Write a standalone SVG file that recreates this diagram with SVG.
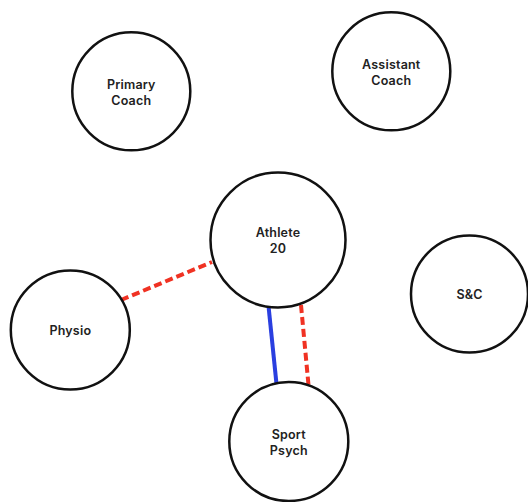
<svg xmlns="http://www.w3.org/2000/svg" width="528" height="502" viewBox="0 0 528 502">
  <style>
    .node circle { fill: #ffffff; stroke: #111111; stroke-width: 2.5; }
    .node text { font-family: "Inter", "Open Sans", "DejaVu Sans", sans-serif; font-size: 12.5px; font-weight: 600; fill: #222222; text-anchor: middle; dominant-baseline: middle; letter-spacing: 0.2px; }
    .link { fill: none; stroke-width: 4; }
    .support { stroke: #2a3fe0; }
    .tension { stroke: #f03223; stroke-dasharray: 8 4; }
  </style>
  <rect width="528" height="502" fill="#ffffff"/>

  <g id="connectors">
    <line class="link tension" x1="121" y1="300" x2="212" y2="262"/>
    <line class="link support" x1="268.5" y1="306" x2="276.5" y2="384"/>
    <line class="link tension" x1="301" y1="305" x2="308.5" y2="385"/>
  </g>

  <g id="primary-coach" class="node">
    <circle cx="131.3" cy="91.3" r="59"/>
    <text x="131.3" y="85.5">Primary</text>
    <text x="131.3" y="101.5">Coach</text>
  </g>

  <g id="assistant-coach" class="node">
    <circle cx="391.3" cy="71.3" r="59"/>
    <text x="391.3" y="65.5">Assistant</text>
    <text x="391.3" y="81.5">Coach</text>
  </g>

  <g id="athlete-20" class="node">
    <circle cx="278" cy="240" r="67.5"/>
    <text x="278" y="233.5">Athlete</text>
    <text x="278" y="249.5">20</text>
  </g>

  <g id="s-and-c" class="node">
    <circle cx="469.5" cy="294" r="58.5"/>
    <text x="469.5" y="295.5">S&amp;C</text>
  </g>

  <g id="physio" class="node">
    <circle cx="70.3" cy="330" r="59.5"/>
    <text x="70.3" y="331.5">Physio</text>
  </g>

  <g id="sport-psych" class="node">
    <circle cx="288.8" cy="441.5" r="59.5"/>
    <text x="288.8" y="435.5">Sport</text>
    <text x="288.8" y="451.5">Psych</text>
  </g>
</svg>
